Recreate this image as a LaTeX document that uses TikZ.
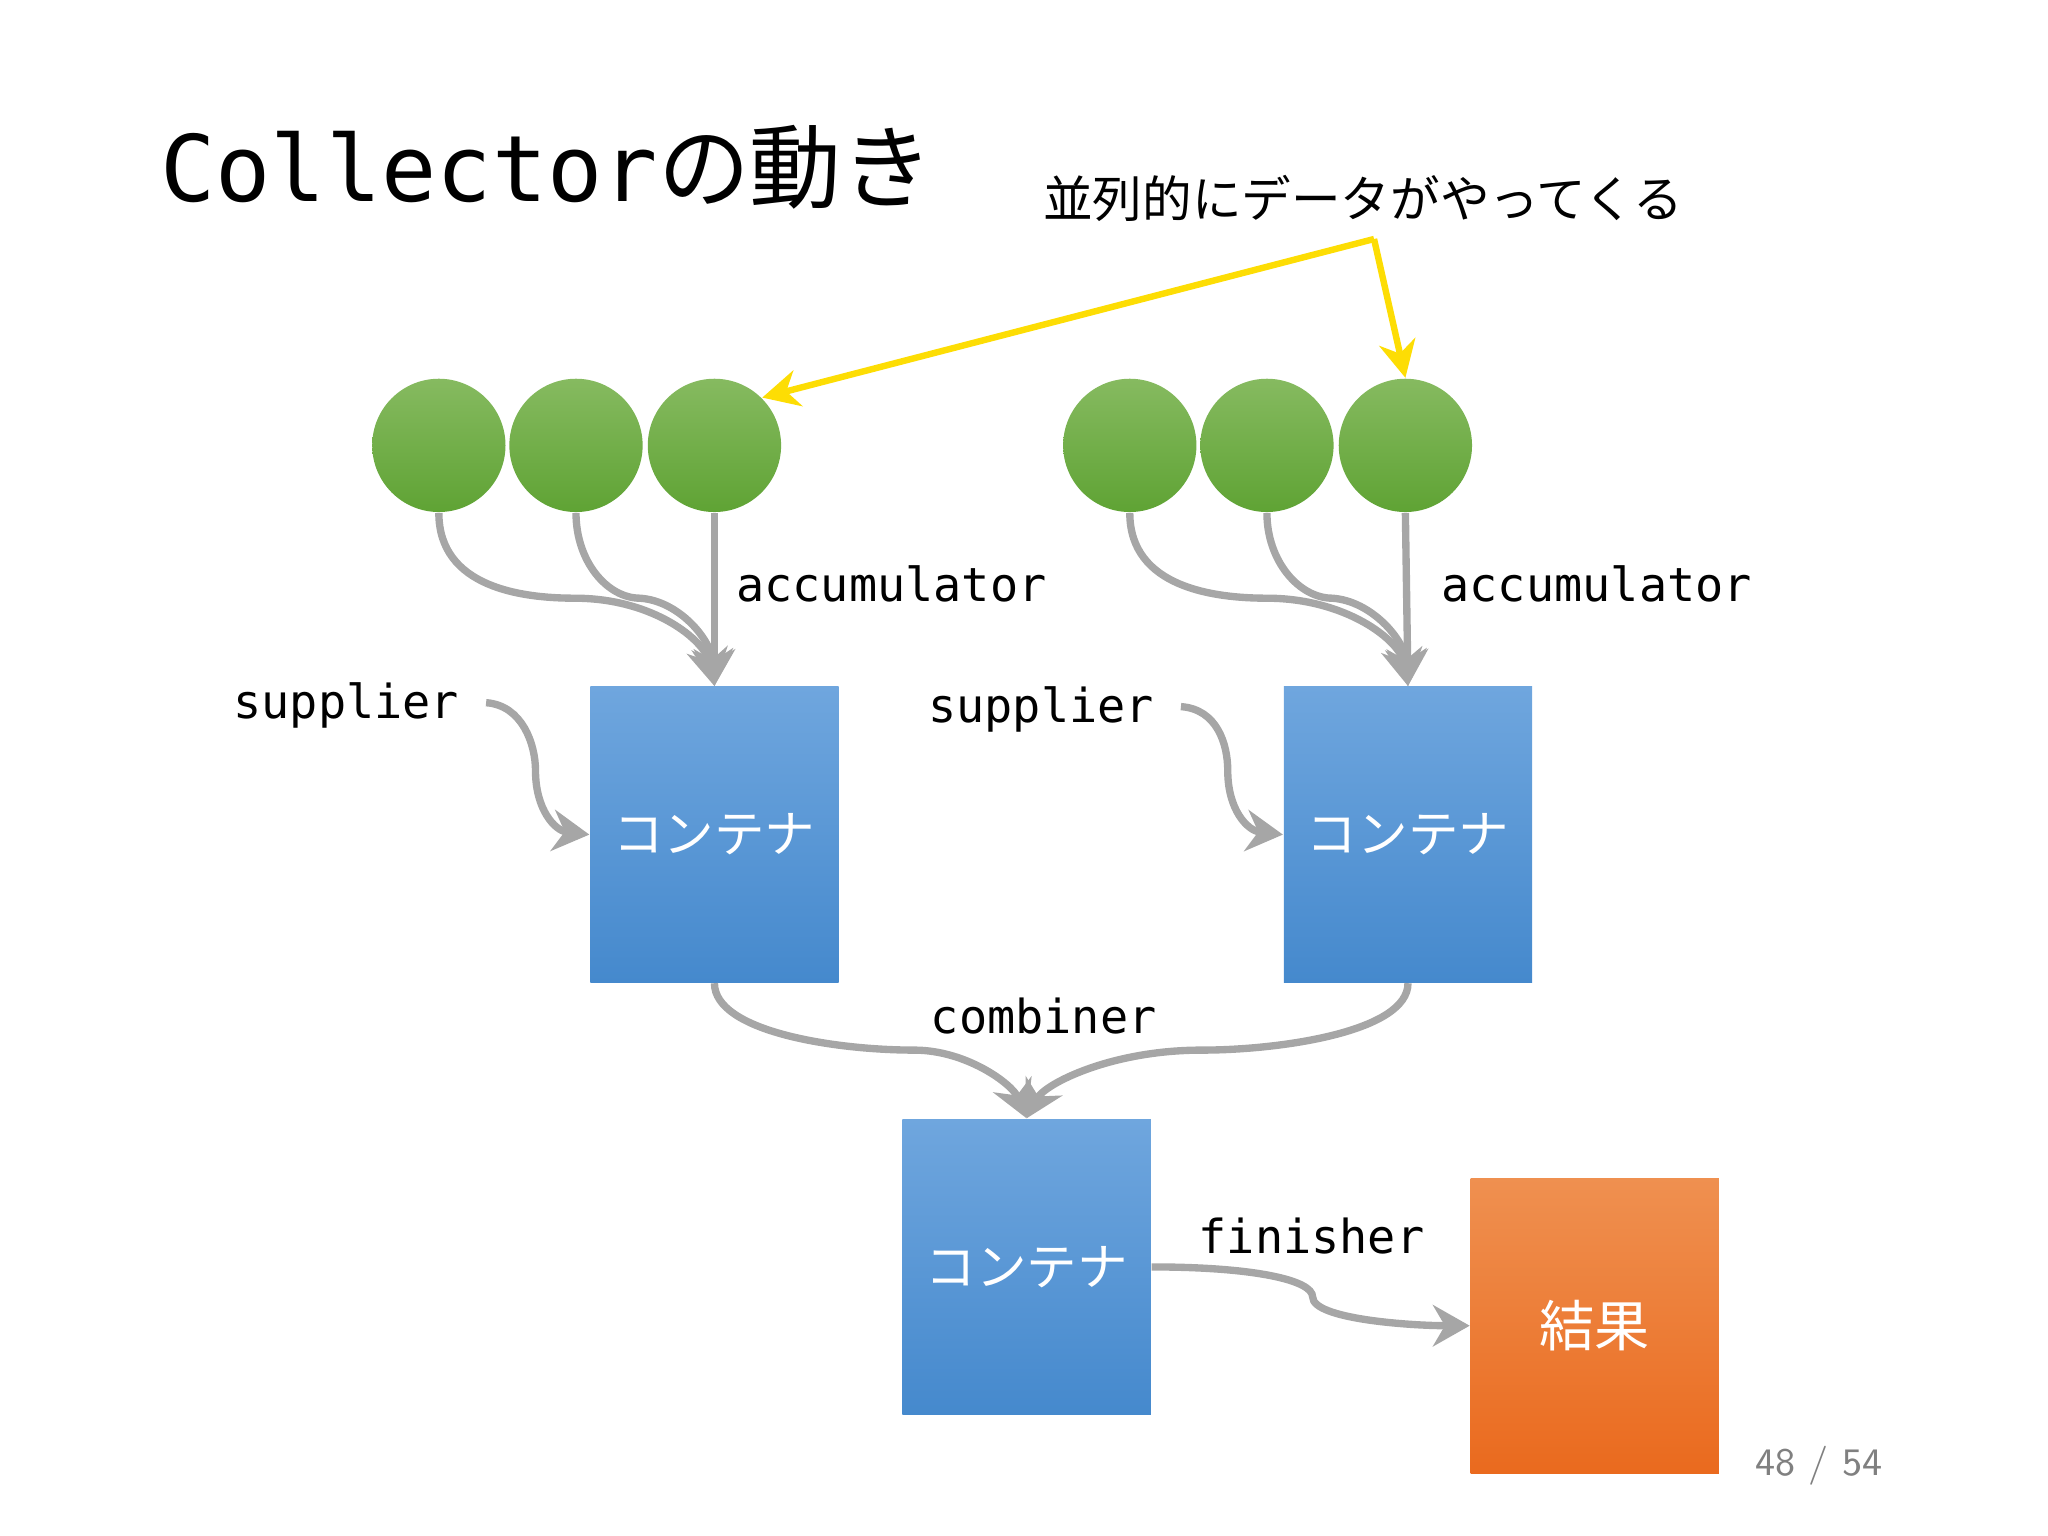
\documentclass[tikz,border=0pt]{standalone}
\usepackage{fontspec}
\setmonofont{DejaVu Sans Mono}
\newfontfamily\cjk{Noto Sans CJK JP}
\usetikzlibrary{arrows.meta}
\definecolor{flowgray}{HTML}{A6A6A6}
\definecolor{boxtop}{HTML}{6FA6DE}
\definecolor{boxbot}{HTML}{4589CD}
\definecolor{ballup}{HTML}{86BA60}
\definecolor{balldn}{HTML}{5FA334}
\definecolor{ortop}{HTML}{EF9050}
\definecolor{orbot}{HTML}{EA6A1E}
\tikzset{
  ball/.style={circle, minimum width=0.98cm, minimum height=1.02cm, inner sep=0pt, top color=ballup, bottom color=balldn, draw=none},
  box/.style={rectangle, minimum width=1.9cm, minimum height=2.26cm, inner sep=0pt, top color=boxtop, bottom color=boxbot, text=white, font=\cjk\fontsize{11}{11}\selectfont},
  flow/.style={draw=flowgray, line width=1.6pt, -{Stealth[length=8pt,width=9pt]}},
  hint/.style={draw=yellow!80!orange, line width=1.4pt, -{Stealth[length=8pt,width=8pt]}},
  lbl/.style={font=\ttfamily\fontsize{10.2}{10}\selectfont, inner sep=0pt}
}
\begin{document}
\begin{tikzpicture}[x=0.01cm,y=-0.01cm]
\useasboundingbox (0,0) rectangle (1568,1176);
\node[anchor=west, inner sep=0pt] (title) at (122,128) {\fontsize{20}{20}\selectfont\ttfamily Collector\cjk の動き};
\node[anchor=west, inner sep=0pt] (note) at (798,152) {\cjk\fontsize{10.8}{11}\selectfont 並列的にデータがやってくる};
\coordinate (fork) at (1052,183);

% elements
\foreach \n/\x in {a1/336,a2/441,a3/547,b1/865,b2/970,b3/1076}
  \node[ball] (\n) at (\x,341) {};

% containers
\node[box] (ca) at (547,639) {コンテナ};
\node[box] (cb) at (1078,639) {コンテナ};
\node[box] (cc) at (786,970) {コンテナ};
\node[rectangle, minimum width=1.9cm, minimum height=2.26cm, inner sep=0pt, top color=ortop, bottom color=orbot, text=white, font=\cjk\fontsize{12}{12}\selectfont] (res) at (1221,1015) {結果};

% labels
\node[lbl, anchor=west] (acca) at (563,447) {accumulator};
\node[lbl, anchor=west] (accb) at (1103,447) {accumulator};
\node[lbl, anchor=west] (supa) at (178,540) {supplier};
\node[lbl, anchor=west] (supb) at (710,543) {supplier};
\node[lbl, anchor=west] (comb) at (712,778) {combiner};
\node[lbl, anchor=west] (fin) at (917,946) {finisher};
\node[anchor=west, inner sep=0pt, text=gray, font=\sffamily\fontsize{8.5}{9}\selectfont] (page) at (1343,1122) {48 / 54};

% yellow hints
\draw[hint] (fork) -- (a3.north east);
\draw[hint] (fork) -- (b3.north);

% accumulator flows
\draw[flow] (a1.south) .. controls (336,450) and (400,458) .. (440,458) .. controls (500,458) and (540,490) .. (ca.north);
\draw[flow] (a2.south) .. controls (441,430) and (465,458) .. (490,458) .. controls (520,460) and (545,490) .. (ca.north);
\draw[flow] (a3.south) -- (ca.north);
\draw[flow] (b1.south) .. controls (865,450) and (930,458) .. (970,458) .. controls (1030,458) and (1072,490) .. (cb.north);
\draw[flow] (b2.south) .. controls (970,430) and (995,458) .. (1020,458) .. controls (1050,460) and (1076,490) .. (cb.north);
\draw[flow] (b3.south) -- (cb.north);

% supplier flows
\draw[flow] (supa.east) ++(20,-2) .. controls (400,540) and (410,570) .. (410,590) .. controls (410,620) and (425,636) .. (ca.west);
\draw[flow] (supb.east) ++(20,-2) .. controls (932,543) and (940,570) .. (940,590) .. controls (940,620) and (955,636) .. (cb.west);

% combiner flows
\draw[flow] (ca.south) .. controls (547,790) and (640,804) .. (700,804) .. controls (740,804) and (775,830) .. (cc.north);
\draw[flow] (cb.south) .. controls (1078,790) and (980,804) .. (920,804) .. controls (850,804) and (800,830) .. (cc.north);

% finisher flow
\draw[flow] (cc.east) .. controls (960,970) and (1005,980) .. (1005,993) .. controls (1005,1010) and (1080,1015) .. (res.west);
\end{tikzpicture}
\end{document}
